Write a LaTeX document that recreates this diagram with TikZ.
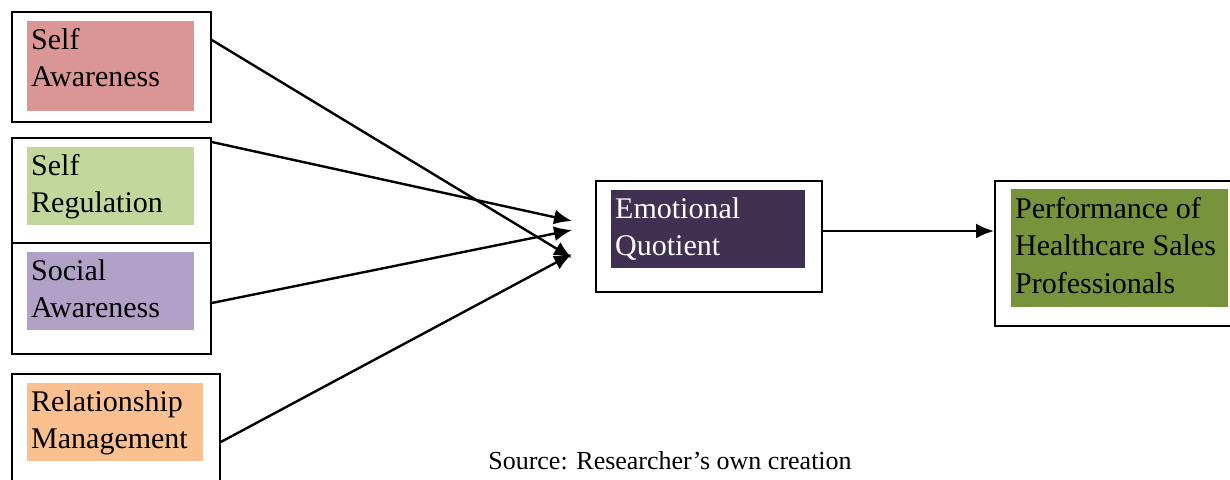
\documentclass[tikz,border=0pt]{standalone}
\usepackage{fontspec}
\setmainfont{Liberation Serif}
\usetikzlibrary{arrows.meta}
\definecolor{cSA}{HTML}{D99694}
\definecolor{cSR}{HTML}{C3D69B}
\definecolor{cSoc}{HTML}{B2A1C7}
\definecolor{cRM}{HTML}{FAC090}
\definecolor{cEQ}{HTML}{403152}
\definecolor{cPerf}{HTML}{77933C}
\tikzset{
  outerbox/.style={draw=black, line width=1.8pt, rectangle, anchor=north west, inner sep=0pt},
  fillbox/.style={rectangle, anchor=north west, inner sep=0pt},
  lbl/.style={anchor=north west, align=left, inner sep=0pt, font=\fontsize{30}{37.5}\selectfont},
  conn/.style={line width=2.4pt, -{Latex[length=18pt,width=15pt]}},
}
\begin{document}
\begin{tikzpicture}[x=1pt,y=-1pt]
\useasboundingbox (0,0) rectangle (1230,479);
\clip (0,0) rectangle (1230,479);
% outer boxes
\node[outerbox, minimum width=199pt, minimum height=110pt] (sa) at (11,11) {};
\node[outerbox, minimum width=199pt, minimum height=105pt] (sr) at (11,137) {};
\node[outerbox, minimum width=199pt, minimum height=111pt] (soc) at (11,242) {};
\node[outerbox, minimum width=208pt, minimum height=112pt] (rm) at (11,373) {};
\node[outerbox, minimum width=226pt, minimum height=111pt] (eq) at (595,180) {};
\node[outerbox, minimum width=240pt, minimum height=145pt] (perf) at (994,180) {};
% coloured fills
\node[fillbox, fill=cSA, minimum width=167pt, minimum height=90pt] (saf) at (27,21) {};
\node[fillbox, fill=cSR, minimum width=167pt, minimum height=78pt] (srf) at (27,147) {};
\node[fillbox, fill=cSoc, minimum width=167pt, minimum height=78pt] (socf) at (27,252) {};
\node[fillbox, fill=cRM, minimum width=176pt, minimum height=78pt] (rmf) at (27,383) {};
\node[fillbox, fill=cEQ, minimum width=194pt, minimum height=78pt] (eqf) at (611,190) {};
\node[fillbox, fill=cPerf, minimum width=217pt, minimum height=118pt] (perff) at (1011,189) {};
% labels
\node[lbl] (sat) at (31,28) {Self\\Awareness};
\node[lbl] (srt) at (31,154) {Self\\Regulation};
\node[lbl] (soct) at (31,259) {Social\\Awareness};
\node[lbl] (rmt) at (31,390) {Relationship\\Management};
\node[lbl, text=white] (eqt) at (615,197) {Emotional\\Quotient};
\node[lbl] (perft) at (1015,197) {Performance of\\Healthcare Sales\\Professionals};
% connectors
\coordinate (t1) at (572,258);
\coordinate (t2) at (572,221);
\coordinate (t3) at (572,230);
\coordinate (t4) at (572,254);
\draw[conn] (sa.north east |- 0,40) -- (t1);
\draw[conn] (sr.north east |- 0,142) -- (t2);
\draw[conn] (soc.north east |- 0,303) -- (t3);
\draw[conn] (rm.north east |- 0,442) -- (t4);
\draw[conn] (eq.east |- 0,231) -- (perf.west |- 0,231);
% source
\node[font=\fontsize{26}{30}\selectfont] (src) at (670,461) {Source: Researcher’s own creation};
\end{tikzpicture}
\end{document}
